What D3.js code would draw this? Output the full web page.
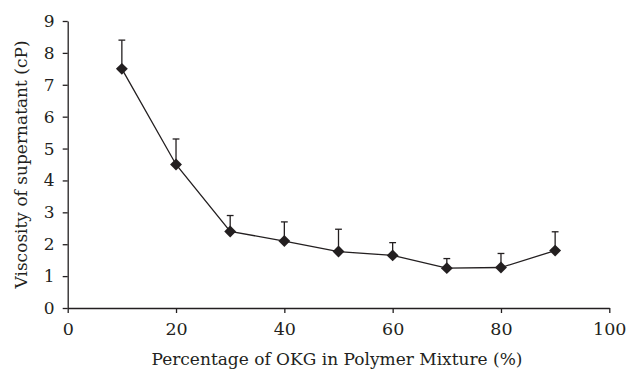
<!DOCTYPE html>
<html><head><meta charset="utf-8">
<script src="https://cdn.jsdelivr.net/npm/d3@7"></script>
<style>body{margin:0;background:#fff}svg{display:block}</style>
</head><body><svg width="627" height="373"></svg>
<script>
const percent = [10, 20, 30, 40, 50, 60, 70, 80, 90];
const viscosity = [7.5, 4.5, 2.4, 2.1, 1.77, 1.65, 1.25, 1.27, 1.8];
const errorUpper = [8.4, 5.3, 2.9, 2.7, 2.47, 2.05, 1.55, 1.71, 2.39];
const xTicks = [0, 20, 40, 60, 80, 100];
const yTicks = [0, 1, 2, 3, 4, 5, 6, 7, 8, 9];

const FONT = "'DejaVu Serif', serif";
const svg = d3.select("svg");
const col = "#231f20";
const x = d3.scaleLinear().domain([0, 100]).range([67.7, 609.3]);
const y = d3.scaleLinear().domain([0, 9]).range([308, 21]);

const xa = svg.append("g").attr("transform", "translate(0,308)")
  .call(d3.axisBottom(x).tickValues(xTicks).tickSize(5).tickPadding(10).tickSizeOuter(0));
const ya = svg.append("g").attr("transform", "translate(67.7,0)")
  .call(d3.axisLeft(y).tickValues(yTicks).tickSize(5).tickPadding(8).tickSizeOuter(0));
xa.attr("font-family", FONT).attr("font-size", 17.5);
ya.attr("font-family", FONT).attr("font-size", 17);
[xa, ya].forEach(a => {
  a.selectAll("path,line").attr("stroke", col).attr("stroke-width", 1.3);
  a.selectAll("text").attr("fill", col);
});

// error bars
const eb = svg.append("g");
percent.forEach((p, i) => {
  eb.append("line").attr("x1", x(p)).attr("x2", x(p)).attr("y1", y(viscosity[i])).attr("y2", y(errorUpper[i]))
    .attr("stroke", col).attr("stroke-width", 1.3);
  eb.append("line").attr("x1", x(p) - 3.4).attr("x2", x(p) + 3.4).attr("y1", y(errorUpper[i])).attr("y2", y(errorUpper[i]))
    .attr("stroke", col).attr("stroke-width", 1.3);
});

const line = d3.line().x((d, i) => x(percent[i])).y(d => y(d));
svg.append("path").datum(viscosity).attr("d", line).attr("fill", "none").attr("stroke", col).attr("stroke-width", 1.3);

const sym = d3.symbol().type(d3.symbolDiamond2).size(90);
svg.append("g").selectAll("path").data(viscosity).join("path")
  .attr("transform", (d, i) => `translate(${x(percent[i])},${y(d)})`)
  .attr("d", sym).attr("fill", col);

svg.append("text").attr("x", 337).attr("y", 365).attr("text-anchor", "middle")
  .attr("font-family", FONT).attr("font-size", 17).attr("fill", col).text("Percentage of OKG in Polymer Mixture (%)");
svg.append("text").attr("transform", `translate(27,${y(4.5)}) rotate(-90)`).attr("text-anchor", "middle")
  .attr("font-family", FONT).attr("font-size", 17).attr("fill", col).text("Viscosity of supernatant (cP)");
</script></body></html>
